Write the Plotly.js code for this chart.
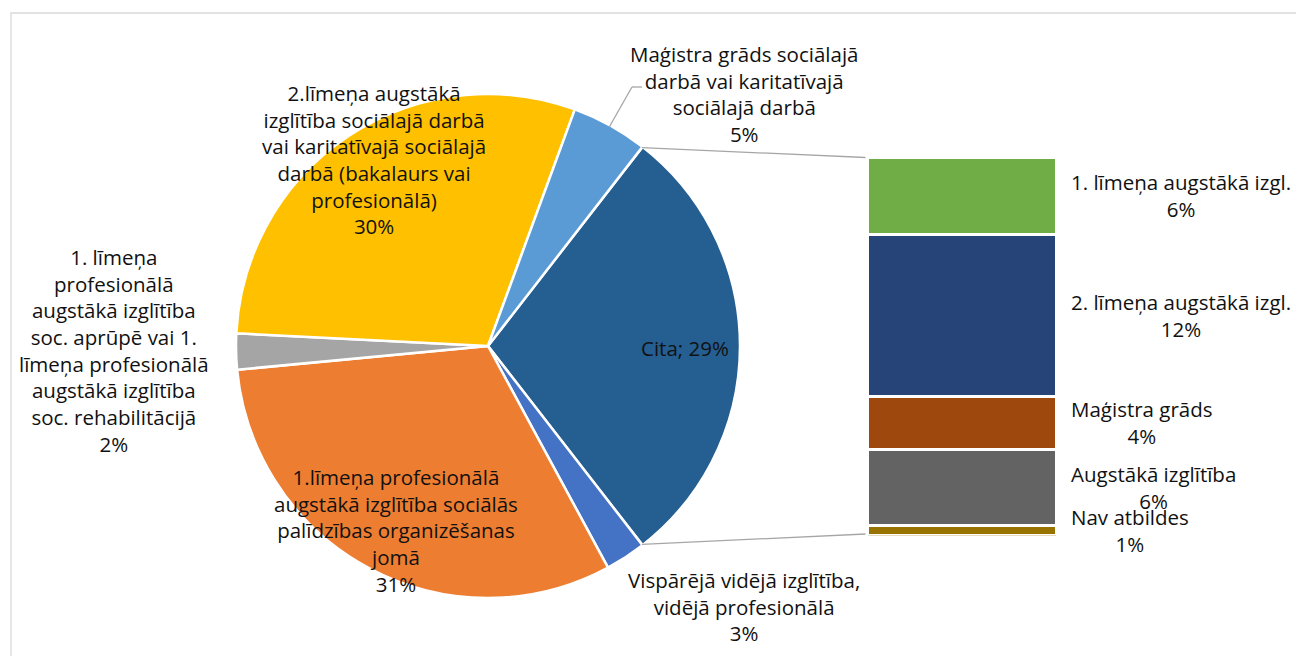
<!DOCTYPE html>
<html><head><meta charset="utf-8">
<script src="https://cdn.plot.ly/plotly-3.0.1.min.js"></script>
<style>html,body{margin:0;padding:0;background:#fff}#chart{width:1296px;height:656px}</style>
</head><body><div id="chart"></div>
<script>
// ---- data ----
const pieNames = [
  "Cita",
  "Vispārējā vidējā izglītība,<br>vidējā profesionālā",
  "1.līmeņa profesionālā<br>augstākā izglītība sociālās<br>palīdzības organizēšanas<br>jomā",
  "1. līmeņa<br>profesionālā<br>augstākā izglītība<br>soc. aprūpē vai 1.<br>līmeņa profesionālā<br>augstākā izglītība<br>soc. rehabilitācijā",
  "2.līmeņa augstākā<br>izglītība sociālajā darbā<br>vai karitatīvajā sociālajā<br>darbā (bakalaurs vai<br>profesionālā)",
  "Maģistra grāds sociālajā<br>darbā vai karitatīvajā<br>sociālajā darbā"
];
const pieValues = [29.0, 2.6, 31.4, 2.3, 29.8, 4.9];
const pieColors = ['#255E91', '#4472C4', '#ED7D31', '#A5A5A5', '#FFC000', '#5B9BD5'];
const pieSeparators = ['; ', '<br>', '<br>', '<br>', '<br>', '<br>'];

const barNames = ['1. līmeņa augstākā izgl.', '2. līmeņa augstākā izgl.', 'Maģistra grāds', 'Augstākā izglītība', 'Nav atbildes'];
const barValues = [5.9, 12.4, 4.1, 5.8, 0.8];
const barColors = ['#70AD47', '#264478', '#9E480E', '#636363', '#997300'];

// ---- layout constants (pixels) ----
const W = 1296, H = 656;
const CX = 488, CY = 346, R = 252;
const BAR_L = 867.5, BAR_R = 1056, BAR_T = 157.5, BAR_B = 535.5;
const BAR_LABEL_X = 1069;
const pieLabelPos = [[685, 348], [744, 606], [396, 530], [114, 350], [374, 159], [744, 94]];
const FONT = {family: '"Open Sans", "Noto Sans", sans-serif', size: 20.5, color: '#111111'};
const LINE = {color: '#A6A6A6', width: 1.3};

const px = x => x / W;
const py = y => 1 - y / H;

const pieTotal = pieValues.reduce((a, b) => a + b, 0);
const rotation = 90 - (pieValues[0] / pieTotal) * 180; // split slice centred at 3 o'clock

const traces = [{
  type: 'pie',
  values: pieValues,
  labels: pieNames.map((n, i) => 's' + i),
  marker: {colors: pieColors, line: {color: '#FFFFFF', width: 2.5}},
  sort: false,
  direction: 'clockwise',
  rotation: rotation,
  textinfo: 'none',
  hoverinfo: 'skip',
  showlegend: false,
  domain: {x: [px(CX - R), px(CX + R)], y: [py(CY + R), py(CY - R)]}
}];

// stacked bar: bottom-most segment first
for (let i = barValues.length - 1; i >= 0; i--) {
  traces.push({
    type: 'bar', x: [0], y: [barValues[i]], width: 1,
    marker: {color: barColors[i], line: {color: '#FFFFFF', width: 3}},
    hoverinfo: 'skip', showlegend: false, xaxis: 'x', yaxis: 'y'
  });
}
const barTotal = barValues.reduce((a, b) => a + b, 0);

// pixel helpers for bar axes
const barXpx = v => BAR_L + (v + 0.5) * (BAR_R - BAR_L);
const barYpx = v => BAR_B - v / barTotal * (BAR_B - BAR_T);

const annotations = [];
pieNames.forEach((n, i) => {
  annotations.push({
    xref: 'paper', yref: 'paper', x: px(pieLabelPos[i][0]), y: py(pieLabelPos[i][1]),
    xanchor: 'center', yanchor: 'middle', align: 'center', showarrow: false,
    text: n + pieSeparators[i] + Math.round(pieValues[i] / pieTotal * 100) + '%',
    font: FONT
  });
});
let cum = barTotal;
barNames.forEach((n, i) => {
  const mid = cum - barValues[i] / 2;
  cum -= barValues[i];
  annotations.push({
    xref: 'paper', yref: 'y', x: px(BAR_LABEL_X), y: mid,
    xanchor: 'left', yanchor: 'middle', align: 'center', showarrow: false,
    text: n + '<br>' + Math.round(barValues[i]) + '%',
    font: FONT
  });
});

// connector lines from the split slice edges to the bar corners
const rad = d => d * Math.PI / 180;
const piePt = (deg, r) => [CX + r * Math.sin(rad(deg)), CY - r * Math.cos(rad(deg))];
const a0 = rotation;
const a1 = rotation + pieValues[0] / pieTotal * 360;
const pTop = piePt(a0, R - 1), pBot = piePt(a1, R - 1);
const shapes = [
  {type: 'line', xref: 'paper', yref: 'paper', x0: px(pTop[0]), y0: py(pTop[1]), x1: px(barXpx(-0.5) - 2), y1: py(barYpx(barTotal)), line: LINE},
  {type: 'line', xref: 'paper', yref: 'paper', x0: px(pBot[0]), y0: py(pBot[1]), x1: px(barXpx(-0.5) - 2), y1: py(barYpx(0) - 1.5), line: LINE}
];
// leader line for the "Maģistra" slice
let before = 0;
for (let i = 0; i < 5; i++) before += pieValues[i];
const midDeg = rotation + (before + pieValues[5] / 2) / pieTotal * 360;
const pm = piePt(midDeg, R - 2);
shapes.push({type: 'line', xref: 'paper', yref: 'paper', x0: px(pm[0]), y0: py(pm[1]), x1: px(632), y1: py(87), line: LINE});
shapes.push({type: 'line', xref: 'paper', yref: 'paper', x0: px(632), y0: py(87), x1: px(642), y1: py(87), line: LINE});
// chart area border (left/top visible)
shapes.push({type: 'rect', xref: 'paper', yref: 'paper', x0: px(11), y0: py(H + 20), x1: px(W + 20), y1: py(13), line: {color: '#D9D9D9', width: 1.3}, layer: 'below'});

const layout = {
  width: W, height: H,
  margin: {l: 0, r: 0, t: 0, b: 0, pad: 0},
  paper_bgcolor: '#FFFFFF', plot_bgcolor: 'rgba(0,0,0,0)',
  barmode: 'stack', showlegend: false,
  xaxis: {domain: [px(BAR_L), px(BAR_R)], range: [-0.5, 0.5], visible: false, fixedrange: true},
  yaxis: {domain: [py(BAR_B), py(BAR_T)], range: [0, barTotal], visible: false, fixedrange: true},
  annotations: annotations,
  shapes: shapes,
  font: FONT
};

Plotly.newPlot('chart', traces, layout, {staticPlot: true, displayModeBar: false});
</script>
</body></html>
